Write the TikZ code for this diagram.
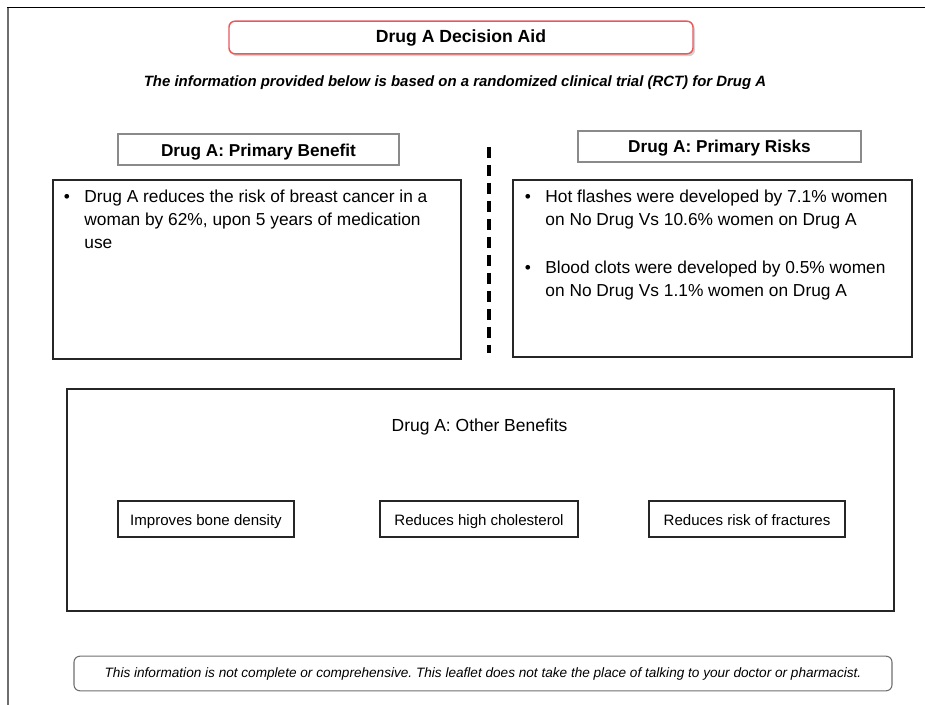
\documentclass[tikz,border=0pt]{standalone}
\usepackage{fontspec}
\setmainfont{Liberation Sans}
\usetikzlibrary{shadows}
\frenchspacing
\definecolor{titlered}{HTML}{E8595A}
\definecolor{framegray}{HTML}{6E6E6E}
\definecolor{headgray}{HTML}{8A8A8A}
% one bulleted item: a bullet column and the item's lines
\newcommand{\bulletitem}[1]{%
  \begin{tabular}[t]{@{}p{15.5pt}@{}l@{}}\textbullet & #1\end{tabular}}
\begin{document}
\begin{tikzpicture}[x=0.75pt,y=-0.75pt,
  panel/.style={draw=black!85,line width=0.8pt},
  headbox/.style={draw=headgray,line width=0.9pt},
  headtxt/.style={font=\bfseries\fontsize{12.9}{15}\selectfont,anchor=center},
  bodytxt/.style={font=\fontsize{13}{17}\selectfont,anchor=base west,inner sep=0pt},
  smallbox/.style={draw=black!85,line width=0.8pt,minimum height=27pt,
    text height=10.4pt,text depth=1pt,font=\fontsize{11.3}{13}\selectfont}
]
% canvas
\useasboundingbox (0,0) rectangle (925,705);
% page frame
\draw[framegray,line width=1.6pt] (8,705) -- (8,8);
\draw[black,line width=1.2pt] (7.4,7.5) -- (925,7.5);

% title
\node[draw=titlered,line width=1.1pt,rounded corners=4.5pt,fill=white,
      drop shadow={shadow xshift=1.5pt,shadow yshift=-1.8pt,opacity=0.35},
      minimum width=348pt,minimum height=24.5pt,
      font=\bfseries\fontsize{13.2}{15}\selectfont] (title) at (461,37.5) {Drug A Decision Aid};
\node[font=\bfseries\itshape\fontsize{11.2}{13}\selectfont] (intro) at (455,83)
  {The information provided below is based on a randomized clinical trial (RCT) for Drug A};

% primary benefit
\draw[headbox] (118,134) rectangle (399,165);
\node[headtxt] (benhead) at (258.5,152) {Drug A: Primary Benefit};
\draw[panel] (53,180) rectangle (461,359);
\node[bodytxt] (btxt) at (63.5,203)
  {\bulletitem{Drug A reduces the risk of breast cancer in a\\ & woman by 62\%, upon 5 years of medication\\ & use}};

% divider
\draw[black,line width=3.2pt,dash pattern=on 8.5pt off 5pt] (489,147) -- (489,353);

% primary risks
\draw[headbox] (578,131) rectangle (861,162);
\node[headtxt] (riskhead) at (719.5,148.5) {Drug A: Primary Risks};
\draw[panel] (513,180) rectangle (912,357);
\node[bodytxt] (rtxt1) at (524.5,203)
  {\bulletitem{Hot flashes were developed by 7.1\% women\\ & on No Drug Vs 10.6\% women on Drug A}};
\node[bodytxt] (rtxt2) at (524.5,274)
  {\bulletitem{Blood clots were developed by 0.5\% women\\ & on No Drug Vs 1.1\% women on Drug A}};

% other benefits
\draw[panel] (67,389) rectangle (894,611);
\node[font=\fontsize{13.1}{15}\selectfont] (othhead) at (479.5,427) {Drug A: Other Benefits};
\node[smallbox,minimum width=132pt] (bone) at (206,519) {Improves bone density};
\node[smallbox,minimum width=148.5pt] (chol) at (479,519) {Reduces high cholesterol};
\node[smallbox,minimum width=147pt] (frac) at (747,519) {Reduces risk of fractures};

% disclaimer
\node[draw=framegray,line width=0.8pt,rounded corners=4.5pt,
      minimum width=613.5pt,minimum height=26pt,
      font=\itshape\fontsize{10.2}{12}\selectfont] (note) at (483,673.5)
  {This information is not complete or comprehensive. This leaflet does not take the place of talking to your doctor or pharmacist.};
\end{tikzpicture}
\end{document}
